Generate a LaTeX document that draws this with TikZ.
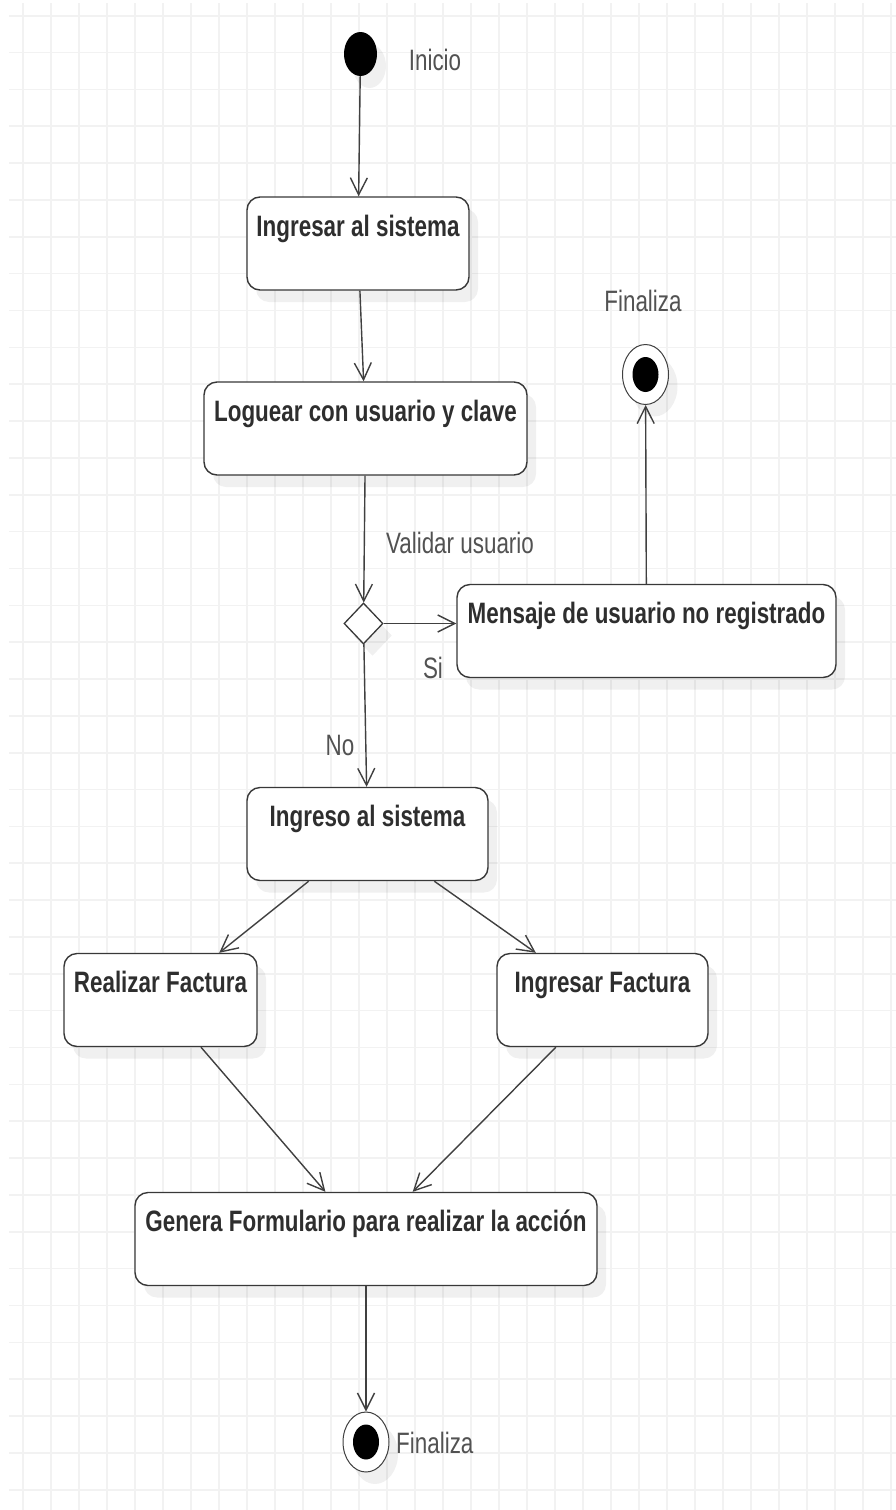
\documentclass[tikz,border=0pt]{standalone}
\usepackage{fontspec}
\setmainfont{Liberation Sans}[FakeStretch=0.76]
\usetikzlibrary{arrows.meta,positioning,shapes.geometric,shadows}

\begin{document}
\begin{tikzpicture}[
  x=1pt, y=-1pt,
  font=\fontsize{29.5}{34}\selectfont,
  gridline/.style={draw=black!5, line width=1.6pt},
  shadowed/.style={drop shadow={shadow xshift=9pt, shadow yshift=-12pt, fill=black, opacity=0.06}},
  box/.style={draw=black!78, line width=1.4pt, fill=white, rounded corners=13pt, shadowed, inner xsep=0pt, inner ysep=0pt, text height=39pt, text depth=54pt, font=\fontsize{29.5}{34}\selectfont\bfseries, text=black!82},
  note/.style={text=black!68, inner sep=0pt},
  startnode/.style={ellipse, fill=black, minimum width=33pt, minimum height=44pt, inner sep=0pt, shadowed},
  endnode/.style={ellipse, draw=black!75, line width=1pt, fill=white, minimum width=46pt, minimum height=60pt, inner sep=0pt, shadowed,
    path picture={\fill[black] (path picture bounding box.center) ellipse [x radius=13pt, y radius=17.5pt];}},
  choice/.style={diamond, draw=black!78, line width=1.3pt, fill=white, minimum width=39pt, minimum height=41pt, inner sep=0pt, shadowed},
  arrow/.style={-{Straight Barb[length=17pt, width=17pt]}, draw=black!75, line width=1.4pt}
]
\fill[white] (0,0) rectangle (896,1510);
\useasboundingbox (0,0) rectangle (896,1510);
\foreach \gx in {0,...,31} \draw[gridline] (23+28*\gx,3) -- (23+28*\gx,1510);
\foreach \gy in {0,...,40} \draw[gridline] (9,15.7+36.85*\gy) -- (896,15.7+36.85*\gy);

\node[startnode] (inicio) at (360.5,54) {};
\node[note] (tinicio) at (435,60) {Inicio};
\node[box, minimum width=222pt] (ingresar) at (358,243.5) {Ingresar al sistema};
\node[box, minimum width=323pt] (loguear) at (365.5,428.5) {Loguear con usuario y clave};
\node[choice] (decision) at (363.5,623.5) {};
\node[note] (tvalidar) at (460,543) {Validar usuario};
\node[box, minimum width=379pt] (mensaje) at (646.5,631) {Mensaje de usuario no registrado};
\node[note] (tsi) at (433,668) {Si};
\node[endnode] (fin1) at (645.5,374.5) {};
\node[note] (tfin1) at (643,301) {Finaliza};
\node[note] (tno) at (340,745) {No};
\node[box, minimum width=241pt] (ingreso) at (367.5,834) {Ingreso al sistema};
\node[box, minimum width=193pt] (realizar) at (160.5,1000) {Realizar Factura};
\node[box, minimum width=211pt] (ingresarf) at (602.5,1000) {Ingresar Factura};
\node[box, minimum width=462pt] (genera) at (366,1239) {Genera Formulario para realizar la acción};
\node[endnode] (fin2) at (366,1442) {};
\node[note, anchor=west] (tfin2) at (396,1443) {Finaliza};

\draw[arrow] (inicio) -- (ingresar);
\draw[arrow] (ingresar) -- (loguear);
\draw[arrow] (loguear) -- (decision);
\draw[arrow] (decision.east) -- (decision.east -| mensaje.west);
\draw[arrow] (mensaje) -- (fin1);
\draw[arrow] (decision) -- (ingreso);
\draw[arrow] (ingreso) -- (realizar);
\draw[arrow] (ingreso) -- (ingresarf);
\draw[arrow] (realizar) -- (genera);
\draw[arrow] (ingresarf) -- (genera);
\draw[arrow] (genera) -- (fin2);
\end{tikzpicture}
\end{document}
